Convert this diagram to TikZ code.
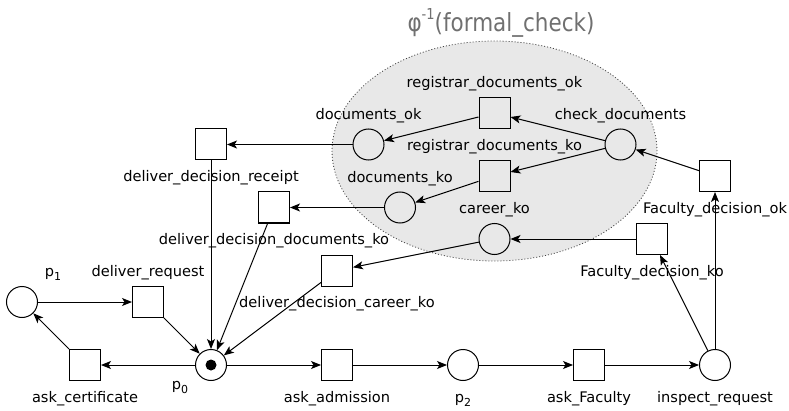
\documentclass[tikz,border=0pt]{standalone}
\usepackage{fontspec}
\setmainfont{DejaVu Sans}
\usetikzlibrary{positioning,arrows.meta,shapes.geometric}
\definecolor{regiongray}{HTML}{E8E8E8}
\definecolor{titlegray}{HTML}{707070}
\newcommand\lblfont{\fontsize{14.6}{17}\selectfont}
\newcommand\ttlfont{\fontsize{21.5}{25}\selectfont}
\newcommand\pidx[1]{\raisebox{-4pt}{\fontsize{11}{11}\selectfont #1}}
\newcommand\pexp[1]{\raisebox{11pt}{\fontsize{13}{13}\selectfont #1}}

\begin{document}
\begin{tikzpicture}[node distance=63pt, on grid,
    every label/.style={font=\lblfont,inner sep=0pt,text height=11pt,text depth=3.5pt},
    place/.style={circle,draw,line width=1pt,minimum size=31pt,inner sep=0pt},
    trans/.style={rectangle,draw,line width=1pt,minimum size=31pt,inner sep=0pt},
    tok/.style={circle,fill,minimum size=11pt,inner sep=0pt},
    arc/.style={-{Stealth[length=10pt,width=8pt,inset=2.5pt]},line width=1pt},
    la/.style={label={[label distance=5.5pt]above:{#1}}},
    lb/.style={label={[label distance=10pt]below:{#1}}}]
    \useasboundingbox (0,0) rectangle (789pt,410pt);
    % the subnet around the formal check
    \node (fc) [ellipse,fill=regiongray,draw=black!75,line width=0.8pt,dash pattern=on 1pt off 2pt,
        minimum width=325pt,minimum height=220pt] at (494.5pt,259pt) {};
    \node (ttl) [anchor=base,font=\ttlfont,text=titlegray] at (501pt,378pt)
        {\scalebox{1}[1.16]{φ\pexp{-1}(formal\_check)}};
    % main line
    \node (p0) [place] at (211pt,45pt) {};
    \node (p0tok) [tok] at (p0) {};
    \node (askcert) [trans, left=126pt of p0, lb=ask\_certificate] {};
    \node (p1) [place, above left=63pt and 63pt of askcert,
        label={[label distance=5.5pt,xshift=31pt]above:p\pidx{1}}] {};
    \node (delreq) [trans, above right=63pt and 63pt of askcert, la=deliver\_request] {};
    \node (askadm) [trans, right=126pt of p0, lb=ask\_admission] {};
    \node (p2) [place, right=126pt of askadm, lb=p\pidx{2}] {};
    \node (askfac) [trans, right=126pt of p2, lb=ask\_Faculty] {};
    \node (inspect) [place, right=126pt of askfac, lb=inspect\_request] {};
    \node (fdok) [trans, above=189pt of inspect, lb=Faculty\_decision\_ok] {};
    \node (fdko) [trans, above left=126pt and 63pt of inspect, lb=Faculty\_decision\_ko] {};
    % inside the formal check
    \node (checkdoc) [place, above left=31.5pt and 94.5pt of fdok, la=check\_documents] {};
    \node (careerko) [place, left=157.5pt of fdko, la=career\_ko] {};
    \node (regko) [trans, above=63pt of careerko, la=registrar\_documents\_ko] {};
    \node (regok) [trans, above=63pt of regko, la=registrar\_documents\_ok] {};
    \node (docok) [place, below left=31.5pt and 126pt of regok, la=documents\_ok] {};
    \node (docko) [place, below left=31.5pt and 94.5pt of regko, la=documents\_ko] {};
    % deliver decisions
    \node (ddreceipt) [trans, left=157.5pt of docok, lb=deliver\_decision\_receipt] {};
    \node (dddocko) [trans, left=126pt of docko, lb=deliver\_decision\_documents\_ko] {};
    \node (ddcareer) [trans, below left=31.5pt and 157.5pt of careerko, lb=deliver\_decision\_career\_ko] {};
    \node at (p0) [label={[label distance=10pt,xshift=-31pt]below:p\pidx{0}}] (p0lbl) {};
    \draw[arc] (p1) -- (delreq); \draw[arc] (delreq) -- (p0);
    \draw[arc] (p0) -- (askcert); \draw[arc] (askcert) -- (p1);
    \draw[arc] (p0) -- (askadm); \draw[arc] (askadm) -- (p2);
    \draw[arc] (p2) -- (askfac); \draw[arc] (askfac) -- (inspect);
    \draw[arc] (inspect) -- (fdok); \draw[arc] (inspect) -- (fdko);
    \draw[arc] (fdok) -- (checkdoc); \draw[arc] (fdko) -- (careerko);
    \draw[arc] (checkdoc) -- (regok); \draw[arc] (checkdoc) -- (regko);
    \draw[arc] (regok) -- (docok); \draw[arc] (regko) -- (docko);
    \draw[arc] (docok) -- (ddreceipt); \draw[arc] (docko) -- (dddocko);
    \draw[arc] (careerko) -- (ddcareer);
    \draw[arc] (ddreceipt) -- (p0); \draw[arc] (dddocko) -- (p0);
    \draw[arc] (ddcareer) -- (p0);
  \end{tikzpicture}
\end{document}
